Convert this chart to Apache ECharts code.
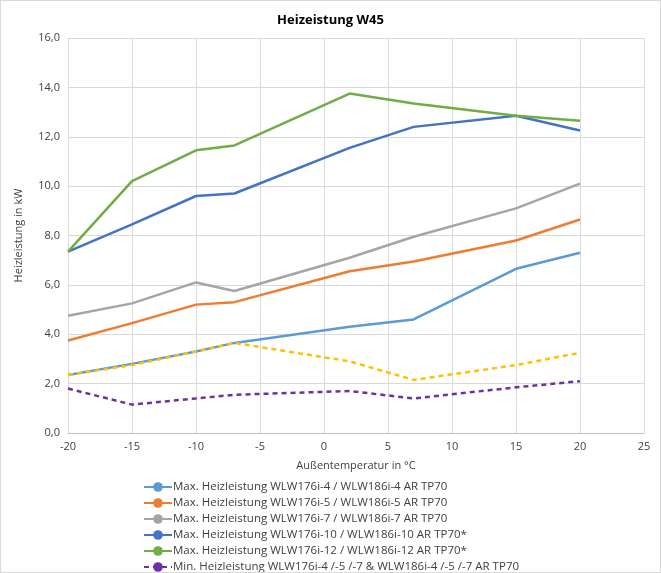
<!DOCTYPE html>
<html lang="de">
<head>
<meta charset="UTF-8">
<title>Heizeistung W45</title>
<script src="https://cdn.jsdelivr.net/npm/echarts@6/dist/echarts.min.js"></script>
<style>
    *{margin:0;padding:0;}
    html,body{width:100%;height:100%;overflow:hidden;background:#fff;}
    .container{width:661px;height:573px;box-sizing:border-box;border:1px solid #d9d9d9;}
</style>
</head>
<body>
<div class="container"></div>
<script>
    // Außentemperatur in °C
    let temps = [-20, -15, -10, -7, 2, 7, 15, 20];
    let names = [
        'Max. Heizleistung WLW176i-4 / WLW186i-4 AR TP70',
        'Max. Heizleistung WLW176i-5 / WLW186i-5 AR TP70',
        'Max. Heizleistung WLW176i-7 / WLW186i-7 AR TP70',
        'Max. Heizleistung WLW176i-10 / WLW186i-10 AR TP70*',
        'Max. Heizleistung WLW176i-12 / WLW186i-12 AR TP70*',
        'Min. Heizleistung WLW176i-4 /-5 /-7 & WLW186i-4 /-5 /-7 AR TP70',
        'Min. Heizleistung WLW176i-10 / -12 & WLW186i-10 / -12 AR TP70'
    ];
    let max4  = [2.35, 2.8, 3.3, 3.65, 4.3, 4.6, 6.65, 7.3];
    let max5  = [3.75, 4.45, 5.2, 5.3, 6.55, 6.95, 7.8, 8.65];
    let max7  = [4.75, 5.25, 6.1, 5.75, 7.1, 7.95, 9.1, 10.1];
    let max10 = [7.35, 8.45, 9.6, 9.7, 11.55, 12.4, 12.85, 12.25];
    let max12 = [7.35, 10.2, 11.45, 11.65, 13.75, 13.35, 12.85, 12.65];
    let min4  = [1.8, 1.15, 1.4, 1.55, 1.7, 1.4, 1.85, 2.1];
    let min10 = [2.35, 2.75, 3.3, 3.65, 2.9, 2.15, 2.75, 3.25];

    let colors = ['#5b9bd5', '#ed7d31', '#a5a5a5', '#4472c4', '#70ad47', '#7030a0', '#ffc000'];
    let values = [max4, max5, max7, max10, max12, min4, min10];

    let series = values.map((vals, i) => ({
        name: names[i],
        type: 'line',
        symbol: 'none',
        data: vals.map((v, j) => [temps[j], v]),
        lineStyle: {width: 2.5, color: colors[i], type: i >= 5 ? [5, 4] : 'solid'},
        itemStyle: {color: colors[i]}
    }));

    let mycharts = echarts.init(document.querySelector('.container'));
    let font = 'Open Sans';
    mycharts.setOption({
        animation: false,
        textStyle: {fontFamily: font},
        title: {
            text: 'Heizeistung W45', left: 'center', top: 8,
            textStyle: {fontSize: 13, fontWeight: 'bold', color: '#000', fontFamily: font}
        },
        grid: {left: 67, right: 16, top: 37, bottom: 139},
        xAxis: {
            type: 'value', min: -20, max: 25, interval: 5,
            name: 'Außentemperatur in °C', nameLocation: 'middle', nameGap: 27,
            nameTextStyle: {fontSize: 11, color: '#404040'},
            axisLine: {lineStyle: {color: '#bfbfbf'}},
            axisTick: {show: false},
            axisLabel: {fontSize: 11, color: '#404040'},
            splitLine: {lineStyle: {color: '#d9d9d9'}}
        },
        yAxis: {
            type: 'value', min: 0, max: 16, interval: 2,
            name: 'Heizleistung in kW', nameLocation: 'middle', nameGap: 44,
            nameTextStyle: {fontSize: 11, color: '#404040'},
            axisLine: {show: false},
            axisTick: {show: false},
            axisLabel: {fontSize: 11, color: '#404040', formatter: v => v.toFixed(1).replace('.', ',')},
            splitLine: {lineStyle: {color: '#d9d9d9'}}
        },
        legend: {
            orient: 'vertical', left: 137, top: 475, height: 200,
            itemWidth: 28, itemHeight: 12, itemGap: 4,
            textStyle: {fontSize: 11.5, color: '#404040', padding: [0, 0, 0, -4]},
            data: names
        },
        series
    });
</script>
</body>
</html>
